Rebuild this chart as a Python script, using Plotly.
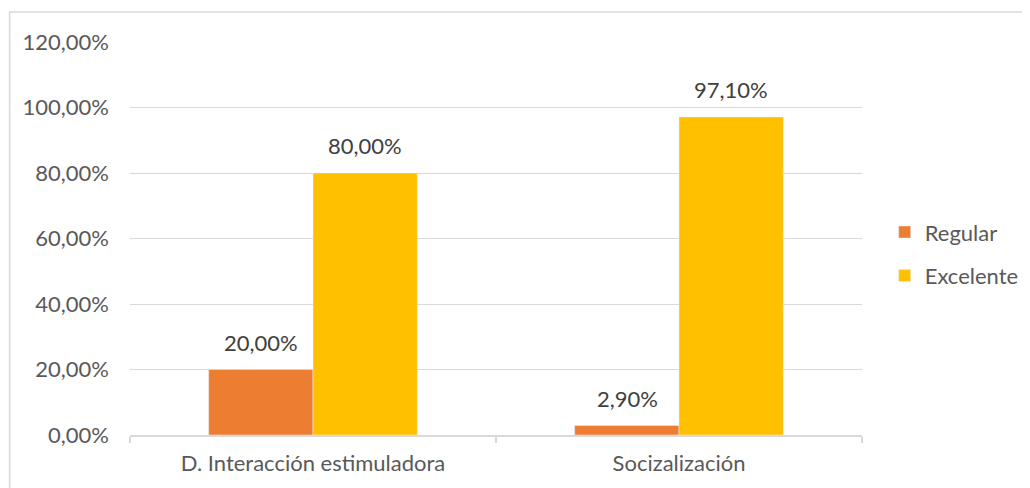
import plotly.graph_objects as go

categories = ["D. Interacción estimuladora", "Socizalización"]
regular = [0.20, 0.029]
excelente = [0.80, 0.971]
tick_vals = [0, 0.2, 0.4, 0.6, 0.8, 1.0, 1.2]

FONT = "Lato, 'Open Sans', sans-serif"
FS = 22

fig = go.Figure()
fig.add_trace(go.Bar(x=categories, y=regular, name="Regular",
                     marker_color="#ED7D31", legendgroup="a"))
fig.add_trace(go.Bar(x=categories, y=excelente, name="Excelente",
                     marker_color="#FFC000", legendgroup="b"))

# data labels
for series, shift in ((regular, -52), (excelente, 52)):
    for c, v in zip(categories, series):
        fig.add_annotation(x=c, y=v, xref="x", yref="y", text=f"{v*100:.2f}%".replace(".", ","),
                           showarrow=False, xshift=shift, yshift=12, yanchor="bottom",
                           font=dict(size=FS, color="#404040", family=FONT))

fig.update_layout(
    width=1030, height=488,
    margin=dict(l=122, r=176, t=34, b=61),
    paper_bgcolor="white", plot_bgcolor="white",
    separators=",.",
    barmode="group", bargap=0.43, bargroupgap=0,
    font=dict(family=FONT, color="#595959", size=FS),
    legend=dict(x=1.031, y=0.46, xanchor="left", yanchor="middle",
                font=dict(size=FS, color="#595959", family=FONT),
                tracegroupgap=12, itemwidth=30),
    showlegend=True,
)
fig.update_yaxes(range=[0, 1.2], tickvals=tick_vals, tickformat=".2%",
                 showgrid=True, gridcolor="#D9D9D9", gridwidth=1,
                 zeroline=False, showline=False, ticks="", ticklabelstandoff=20,
                 tickfont=dict(size=FS, color="#595959", family=FONT))
fig.update_xaxes(showline=True, linecolor="#D9D9D9", linewidth=1.5,
                 ticks="outside", tickson="boundaries", ticklen=6,
                 tickcolor="#D9D9D9", tickwidth=1.5, ticklabelstandoff=8,
                 tickfont=dict(size=FS, color="#595959", family=FONT))

fig.add_shape(type="rect", xref="paper", yref="paper",
              x0=-0.1645, x1=1.2255, y0=-0.25, y1=1.0763,
              line=dict(color="#D9D9D9", width=1.5), fillcolor="rgba(0,0,0,0)",
              layer="below")

fig.write_html("out.html")
